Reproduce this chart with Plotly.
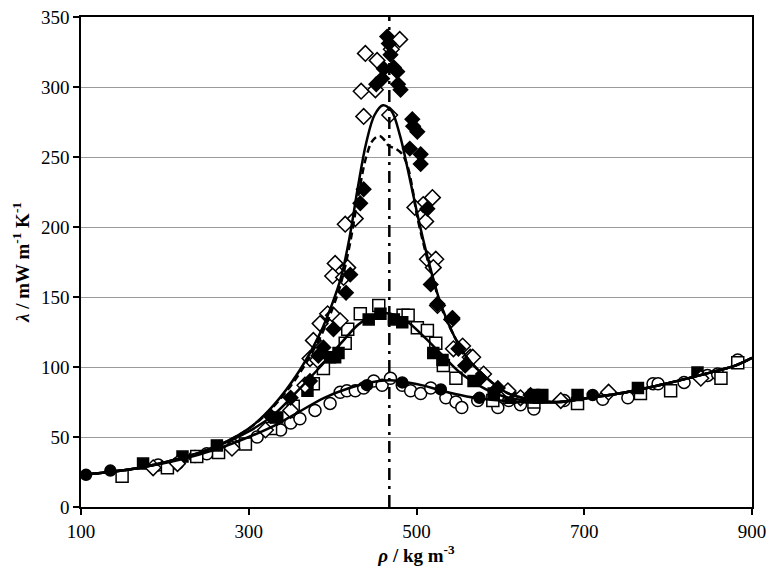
import plotly.graph_objects as go

# ---- Curves (density rho / kg m-3, thermal conductivity lambda / mW m-1 K-1)
tail_rho = [670, 700, 750, 800, 850, 880, 900]
tail_lam = [75, 77.5, 82, 88.5, 96, 101, 106.5]

high_rho = [100, 135, 170, 220, 260, 300, 330, 360, 385, 400, 410, 420, 430, 440, 450, 460, 470, 480, 490, 500, 510, 520, 530, 545, 560, 575, 590, 610, 640] + tail_rho
high_lam = [23, 25, 28, 35, 43, 56, 73, 97, 124, 146, 164, 192, 228, 260, 280, 287, 283, 266, 240, 212, 186, 163, 143, 122, 107, 97, 89, 81, 76.5] + tail_lam

dash_rho = [100, 135, 170, 220, 260, 300, 330, 360, 385, 400, 410, 420, 430, 440, 448, 456, 462, 467, 475, 483, 490, 495, 500, 510, 520, 530, 545, 560, 575, 590, 610, 640] + tail_rho
dash_lam = [23, 25, 28, 35, 43, 56, 72, 95, 121, 142, 160, 186, 220, 250, 262, 265, 262, 258, 256, 252, 242, 228, 210, 184, 162, 142, 122, 107, 97, 89, 81, 76.5] + tail_lam

mid_rho = [100, 135, 170, 220, 260, 300, 330, 360, 385, 410, 430, 445, 460, 475, 490, 510, 530, 550, 570, 590, 610, 640] + tail_rho
mid_lam = [23, 25, 28, 35, 43, 54, 66, 84, 100, 117, 130, 136, 138.5, 137, 132, 121, 109, 97, 88.5, 82, 78, 75.5] + tail_lam

low_rho = [100, 135, 170, 220, 260, 300, 330, 360, 390, 420, 445, 469, 490, 510, 530, 560, 600, 640] + tail_rho
low_lam = [23, 25, 28, 34, 41, 50, 58, 68, 78, 85, 89, 90.5, 89, 86.5, 83, 79, 76, 74.5] + tail_lam

rho_c = 467.6

# ---- Experimental points
fd_rho = [465, 467, 469, 461, 473, 477, 459, 478, 452, 481, 495, 496, 501, 492, 505, 505, 437, 433, 421, 416, 401, 389, 513, 517, 525, 543, 550, 558, 383, 373, 350, 326, 576, 597, 636]
fd_lam = [336, 331, 323, 313, 314, 311, 306, 302, 302, 298, 277, 272, 268, 256, 252, 245, 227, 217, 166, 153, 127, 114, 213, 159, 145, 135, 113, 101, 108, 90, 78, 65, 92, 85, 80]

od_rho = [480, 439, 453, 470, 434, 451, 437, 468, 415, 427, 403, 418, 400, 413, 394, 401, 409, 385, 377, 373, 382, 186, 215, 280, 320, 350, 367, 519, 508, 498, 511, 513, 523, 520, 525, 542, 555, 544, 564, 567, 580, 609, 624, 672, 729, 839, 902]
od_lam = [334, 324, 319, 327, 297, 298, 279, 280, 202, 206, 174, 171, 165, 164, 138, 137, 133, 131, 119, 106, 105, 28, 31, 42, 55, 69, 87, 221, 216, 214, 204, 177, 177, 171, 144, 134, 115, 113, 107, 107, 95, 83, 78, 76, 82, 92, 107]

os_rho = [149, 203, 238, 264, 296, 326, 353, 377, 389, 415, 418, 433, 455, 484, 490, 501, 513, 523, 532, 547, 591, 640, 692, 767, 803, 863, 883]
os_lam = [22, 28, 36, 39, 45, 56, 72, 88, 99, 117, 127, 138, 144, 137, 137, 128, 126, 117, 101, 92, 76, 75, 74, 81, 83, 92, 103]

fs_rho = [174, 221, 262, 334, 370, 397, 403, 407, 443, 457, 473, 483, 520, 531, 568, 592, 612, 640, 650, 692, 764, 835]
fs_lam = [31, 36, 44, 64, 83, 107, 107, 110, 134, 138, 134, 132, 110, 105, 90, 81, 78, 80, 80, 80, 85, 96]

oc_rho = [192, 215, 236, 250, 282, 310, 338, 350, 361, 379, 397, 409, 417, 427, 437, 449, 459, 469, 483, 493, 505, 517, 535, 547, 554, 573, 597, 610, 624, 640, 676, 722, 752, 782, 788, 819, 847, 859, 883]
oc_lam = [30, 31, 36, 38, 44, 50, 55, 60, 63, 69, 74, 82, 83, 83, 85, 90, 87, 92, 87, 83, 81, 85, 78, 75, 71, 76, 71, 76, 73, 70, 76, 77, 78, 88, 88, 89, 94, 95, 105]

fc_rho = [106, 135, 441, 483, 529, 575, 640, 710]
fc_lam = [23, 26, 87, 89, 84, 78, 76, 80]

x_ticks = [100, 300, 500, 700, 900]
y_ticks = [0, 50, 100, 150, 200, 250, 300, 350]

fig = go.Figure()

def marker_trace(x, y, symbol, size, filled):
    return go.Scatter(
        x=x, y=y, mode="markers", showlegend=False, cliponaxis=False,
        marker=dict(symbol=symbol, size=size,
                    color="black" if filled else "white",
                    line=dict(color="black", width=1.5)),
    )

fig.add_trace(marker_trace(oc_rho, oc_lam, "circle", 12, False))
fig.add_trace(marker_trace(fc_rho, fc_lam, "circle", 11, True))
fig.add_trace(marker_trace(os_rho, os_lam, "square", 12, False))
fig.add_trace(marker_trace(fs_rho, fs_lam, "square", 11, True))
fig.add_trace(marker_trace(od_rho, od_lam, "diamond", 12, False))
fig.add_trace(marker_trace(fd_rho, fd_lam, "diamond", 11, True))

line_kw = dict(mode="lines", showlegend=False, line_shape="spline")
fig.add_trace(go.Scatter(x=low_rho, y=low_lam, line=dict(color="black", width=2.5), **line_kw))
fig.add_trace(go.Scatter(x=mid_rho, y=mid_lam, line=dict(color="black", width=2.5), **line_kw))
fig.add_trace(go.Scatter(x=dash_rho, y=dash_lam, line=dict(color="black", width=2.5, dash="7px,4px"), **line_kw))
fig.add_trace(go.Scatter(x=high_rho, y=high_lam, line=dict(color="black", width=2.5), **line_kw))
fig.add_trace(go.Scatter(x=[rho_c, rho_c], y=[0, 350], mode="lines", showlegend=False,
                         line=dict(color="black", width=2.5, dash="12px,6px,3px,6px")))

font_family = "Liberation Serif, Times New Roman, serif"

# page body has an 8px margin; figure sized to fit the 776x580 window exactly
fig.update_layout(
    width=760, height=564,
    margin=dict(l=73, r=16, t=9, b=65),
    plot_bgcolor="white", paper_bgcolor="white",
    font=dict(family=font_family, size=19, color="black"),
    xaxis=dict(
        range=[100, 900], tickvals=x_ticks, ticktext=[str(v) for v in x_ticks],
        showgrid=False, zeroline=False, showline=True, linecolor="black", linewidth=1.5,
        mirror=True, ticks="outside", ticklen=6, tickwidth=1.5, tickcolor="black",
        automargin=False, ticklabeloverflow="allow",
        title=dict(text="<b><i>ρ</i> / kg m<sup>-3</sup></b>", font=dict(size=19), standoff=8),
    ),
    yaxis=dict(
        range=[0, 350], tickvals=y_ticks,
        showgrid=True, gridcolor="#9a9a9a", gridwidth=1, zeroline=False,
        showline=True, linecolor="black", linewidth=1.5, mirror=True,
        ticks="outside", ticklen=6, tickwidth=1.5, tickcolor="black",
        automargin=False, ticklabeloverflow="allow",
        title=dict(text="<b><i>λ</i> / mW m<sup>-1</sup> K<sup>-1</sup></b>", font=dict(size=19), standoff=6),
    ),
)

fig.write_html("out.html")
